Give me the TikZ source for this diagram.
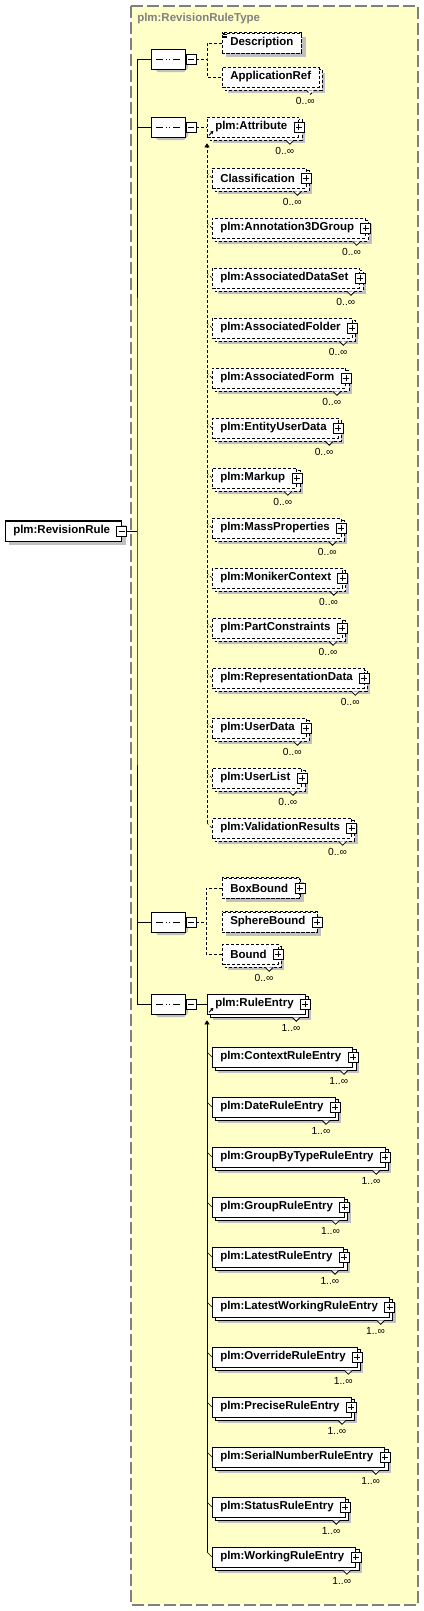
\documentclass[tikz,border=0pt]{standalone}
\usepackage{fontspec}
\setmainfont{Liberation Sans}
\usetikzlibrary{arrows.meta,calc,shapes.misc}

\definecolor{typebg}{RGB}{255,255,200}
\definecolor{typeframe}{RGB}{128,128,128}
\definecolor{shadegray}{RGB}{192,192,192}

\pgfdeclarelayer{frame}
\pgfdeclarelayer{shade}
\pgfsetlayers{frame,shade,main}

% grey shadow behind a single box
\newcommand{\boxshade}[2]{%
  \begin{pgfonlayer}{shade}
    \fill[shadegray] ($(#1.north west)+(4,4)$) rectangle ($(#1.south east)+(4,4)$);
    \draw[fill=white, #2] (#1.north west) rectangle (#1.south east);
  \end{pgfonlayer}}
% second box and shadow behind a repeated element
\newcommand{\boxstack}[2]{%
  \begin{pgfonlayer}{shade}
    \fill[shadegray] ($(#1.north west)+(6,6)$) rectangle ($(#1.south east)+(6,6)$);
    \draw[fill=white, #2] ($(#1.north west)+(3,3)$) rectangle ($(#1.south east)+(3,3)$);
  \end{pgfonlayer}}

\begin{document}
\begin{tikzpicture}[x=0.75pt, y=-0.75pt, line width=0.75pt,
    elem/.style={draw, fill=white, anchor=west, minimum height=15pt,
      inner xsep=6pt, inner ysep=0pt, font=\fontsize{8.6}{10}\selectfont\bfseries},
    cplx/.style={elem, execute at end node={\hspace{2.5pt}}},
    opt/.style={dash pattern=on 2.25pt off 1.5pt},
    seq/.style={chamfered rectangle, chamfered rectangle sep=3pt, draw, fill=white,
      minimum width=25.5pt, minimum height=15pt, inner sep=0pt,
      path picture={
        \draw[line width=0.6pt] ([xshift=-9pt]path picture bounding box.center) -- ([xshift=9pt]path picture bounding box.center);
        \foreach \d in {-2.8,0,2.8}
          \fill ([xshift=\d pt]path picture bounding box.center) +(-1pt,-1pt) rectangle +(1pt,1pt);}},
    sign/.style={draw, fill=white, minimum size=7.5pt, inner sep=0pt},
    minus/.style={sign, path picture={
      \draw[line width=0.6pt] ([xshift=1.5pt]path picture bounding box.west) -- ([xshift=-1.5pt]path picture bounding box.east);}},
    plus/.style={sign, path picture={
      \draw[line width=0.6pt] ([xshift=1.5pt]path picture bounding box.west) -- ([xshift=-1.5pt]path picture bounding box.east)
        ([yshift=-1.5pt]path picture bounding box.north) -- ([yshift=1.5pt]path picture bounding box.south);}},
    notch/.style={fill=white, line width=0.6pt},
    mult/.style={anchor=north east, inner sep=0pt, font=\fontsize{7.7}{9}\selectfont},
    tip/.style={-{Triangle[length=3pt, width=3.75pt]}},
    refmark/.style={-{Triangle[length=2.25pt, width=2.25pt]}, line width=0.6pt},
  ]
  \useasboundingbox (0,0) rectangle (424,1611);

  % complex type frame
  \begin{pgfonlayer}{frame}
    \draw[typeframe, line width=1.1pt, dash pattern=on 9pt off 3pt, fill=typebg] (131,6) rectangle (418,1605);
  \end{pgfonlayer}
  \node[anchor=west, inner sep=0pt, text=typeframe, font=\fontsize{8.6}{10}\selectfont\bfseries] (ttl) at (137,19) {plm:RevisionRuleType};

  % root element
  \node[cplx] (root) at (5,531) {plm:RevisionRule};
  \boxshade{root}{solid}
  \node[minus] (root-m) at (root.east) {};

  % sequences
  \foreach \s/\yy in {s1/59, s2/127, s3/922, s4/1004} {
    \node[seq] (\s) at (168,\yy) {};
    \node[minus] (\s-m) at (191,\yy) {};
    \begin{pgfonlayer}{shade}
      \fill[shadegray] ($(\s.center)+(-14,-3)$) -- ++(4,-4) -- ++(26,0) -- ++(4,4) -- ++(0,12)
        -- ++(-4,4) -- ++(-26,0) -- ++(-4,-4) -- cycle;
      \fill[white] (\s.center) circle (1pt);
    \end{pgfonlayer}
  }

  \draw (root-m.east) -- (137,531) coordinate (tr);
  \draw (s1.west) -| (tr) |- (s4.west);
  \draw (s2.west) -- (s2.west -| tr);
  \draw (s3.west) -- (s3.west -| tr);

  % first sequence
  \node[elem, opt] (desc) at (222,43) {Description};
  \boxshade{desc}{opt}
  \foreach \k in {0,1.7,3.4}
    \draw[line width=0.5pt] ([shift={(0.5pt,-1.2pt-\k*0.75pt)}]desc.north west) -- ++(4.5,0);
  \node[elem, opt] (appref) at (222,77) {ApplicationRef};
  \boxstack{appref}{opt}
  \draw[notch, opt] ($(appref.south east)+(-13,3)$) -- ++(4,4) -- ++(4,-4);
  \node[mult] (appref-n) at ($(appref.south east)+(-4.5,9.5)$) {0..∞};
  \draw[opt] (s1-m.east) -- (207,59) coordinate (j1);
  \draw[opt] (desc.west) -| (j1) |- (appref.west);

  % attribute group
  \node[cplx, opt] (attr) at (207,127) {plm:Attribute};
  \boxstack{attr}{opt}
  \node[plus] (attr-p) at (attr.east) {};
  \draw[notch] ($(attr.south east)+(-13,3)$) -- ++(4,4) -- ++(4,-4);
  \node[mult] (attr-n) at ($(attr.south east)+(-4.5,9.5)$) {0..∞};
  \draw[refmark] ($(attr.south west)+(2,-2)$) -- ++(4.5,-4.5);
  \draw[opt] (s2-m) -- (attr);
  \foreach \nm/\txt/\yy in {cls/Classification/178, ann/plm:Annotation3DGroup/228,
      ads/plm:AssociatedDataSet/278, afo/plm:AssociatedFolder/328, afm/plm:AssociatedForm/378,
      eud/plm:EntityUserData/428, mkp/plm:Markup/478, mps/plm:MassProperties/528,
      mnk/plm:MonikerContext/578, pcn/plm:PartConstraints/628, rep/plm:RepresentationData/678,
      usd/plm:UserData/728, usl/plm:UserList/778, val/plm:ValidationResults/828} {
    \node[cplx, opt] (\nm) at (212,\yy) {\txt};
    \boxstack{\nm}{opt}
    \node[plus] (\nm-p) at (\nm.east) {};
    \draw[notch] ($(\nm.south east)+(-13,3)$) -- ++(4,4) -- ++(4,-4);
    \node[mult] (\nm-n) at ($(\nm.south east)+(-4.5,9.5)$) {0..∞};
    \draw[opt] (\nm.west) -- ++(-5,-5);
  }
  \draw[opt, tip] ($(val.west)+(-5,-5)$) -- ($(attr.south west)+(0,6)$);

  % bounds
  \node[cplx, opt] (boxb) at (222,888) {BoxBound};
  \boxshade{boxb}{opt}
  \node[plus] (boxb-p) at (boxb.east) {};
  \node[cplx, opt] (sphb) at (222,922) {SphereBound};
  \boxshade{sphb}{opt}
  \node[plus] (sphb-p) at (sphb.east) {};
  \node[cplx, opt] (bnd) at (222,954) {Bound};
  \boxstack{bnd}{opt}
  \node[plus] (bnd-p) at (bnd.east) {};
  \draw[notch] ($(bnd.south east)+(-13,3)$) -- ++(4,4) -- ++(4,-4);
  \node[mult] (bnd-n) at ($(bnd.south east)+(-4.5,9.5)$) {0..∞};
  \draw[opt] (s3-m.east) -- (206,922) coordinate (j3);
  \draw[opt] (boxb.west) -| (j3) |- (bnd.west);

  % rule entries
  \node[cplx] (rule) at (207,1004) {plm:RuleEntry};
  \boxstack{rule}{solid}
  \node[plus] (rule-p) at (rule.east) {};
  \draw[notch] ($(rule.south east)+(-13,3)$) -- ++(4,4) -- ++(4,-4);
  \node[mult] (rule-n) at ($(rule.south east)+(-4.5,9.5)$) {1..∞};
  \draw[refmark] ($(rule.south west)+(2,-2)$) -- ++(4.5,-4.5);
  \draw (s4-m) -- (rule);
  \foreach \nm/\txt/\yy in {ctx/plm:ContextRuleEntry/1057, dat/plm:DateRuleEntry/1107,
      gbt/plm:GroupByTypeRuleEntry/1157, grp/plm:GroupRuleEntry/1207, lat/plm:LatestRuleEntry/1257,
      lwk/plm:LatestWorkingRuleEntry/1307, ovr/plm:OverrideRuleEntry/1357, prc/plm:PreciseRuleEntry/1407,
      ser/plm:SerialNumberRuleEntry/1457, sta/plm:StatusRuleEntry/1507, wrk/plm:WorkingRuleEntry/1557} {
    \node[cplx] (\nm) at (212,\yy) {\txt};
    \boxstack{\nm}{solid}
    \node[plus] (\nm-p) at (\nm.east) {};
    \draw[notch] ($(\nm.south east)+(-13,3)$) -- ++(4,4) -- ++(4,-4);
    \node[mult] (\nm-n) at ($(\nm.south east)+(-4.5,9.5)$) {1..∞};
    \draw (\nm.west) -- ++(-5,-5);
  }
  \draw[tip] ($(wrk.west)+(-5,-5)$) -- ($(rule.south west)+(0,6)$);
\end{tikzpicture}
\end{document}
